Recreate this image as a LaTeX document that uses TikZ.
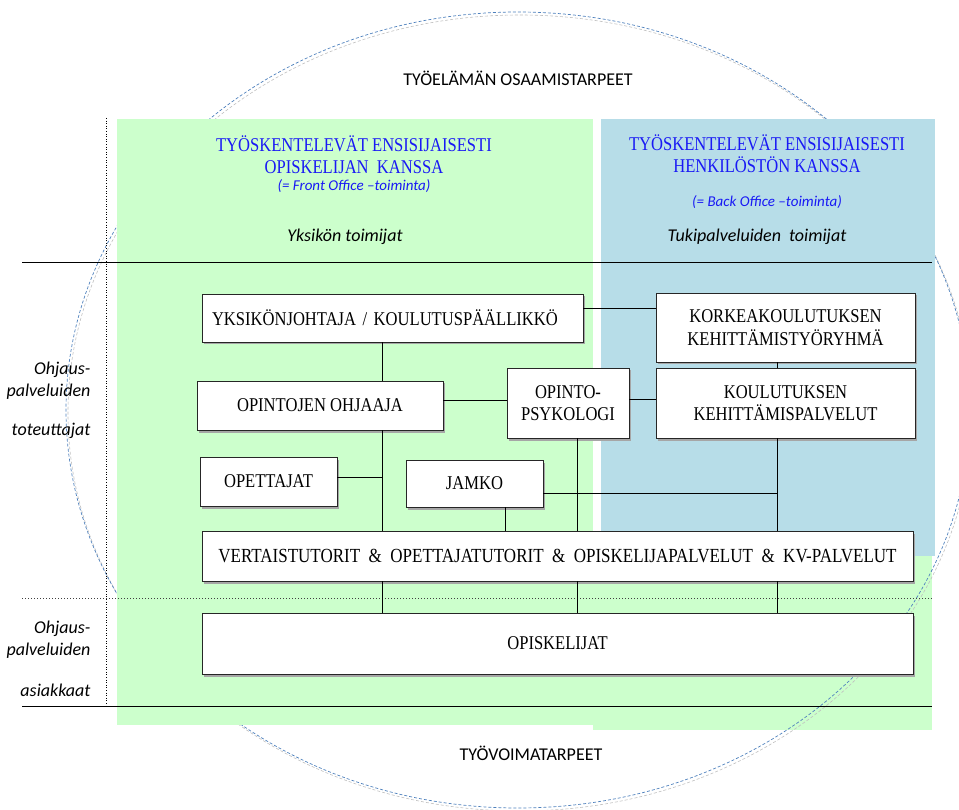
\documentclass[tikz,border=0pt]{standalone}
\usepackage{fontspec}
\setmainfont{Liberation Serif}
\newfontfamily\cambria[FakeStretch=0.85]{Liberation Serif}
\newfontfamily\calibri{Carlito}
\usepackage{tikz}
\usetikzlibrary{
  shadows,
  positioning}
\definecolor{frontgreen}{RGB}{204,255,204}
\definecolor{backblue}{RGB}{183,221,232}
\definecolor{headblue}{RGB}{25,25,245}
\definecolor{ringblue}{RGB}{79,129,189}

\begin{document}
\begin{tikzpicture}[x=1pt,y=-1pt,
  box/.style={draw=black!85,fill=white,line width=0.9pt,align=center,inner sep=2pt,
    font=\cambria\fontsize{19.5}{22.5}\selectfont,
    drop shadow={shadow xshift=2pt,shadow yshift=-2.5pt,fill=black!35,opacity=1}},
  head/.style={align=center,text=headblue,font=\cambria\fontsize{19.5}{22}\selectfont},
  sub/.style={text=headblue,font=\calibri\itshape\fontsize{15}{18}\selectfont},
  role/.style={font=\calibri\itshape\fontsize{18}{22}\selectfont},
  side/.style={role,align=right,anchor=east},
  need/.style={font=\calibri\fontsize{18}{22}\selectfont},
  link/.style={line width=0.8pt}]
  \useasboundingbox (0,0) rectangle (959,810);

  \fill[frontgreen] (593,556) rectangle (932,730);
  \draw[black!25,dashed,dash pattern=on 3pt off 2pt,line width=0.6pt] (520,413) ellipse [x radius=452,y radius=398];
  \draw[ringblue,dashed,dash pattern=on 3pt off 2pt,line width=0.7pt] (518,410) ellipse [x radius=452,y radius=398];
  \fill[frontgreen] (117,119) rectangle (593,725);
  \fill[backblue] (601,119) rectangle (935,556);

  \draw[line width=0.8pt] (22,262) -- (932,262);
  \draw[black!75,dotted,line width=1pt] (22,598) -- (932,598);
  \draw[line width=0.8pt] (22,706) -- (932,706);
  \draw[dotted,line width=0.6pt] (106,118) -- (106,708);

  \node[need] (osaam) at (518,78) {TYÖELÄMÄN OSAAMISTARPEET};
  \node[need] (tyovoima) at (531,753) {TYÖVOIMATARPEET};

  \node[head] (fronthd) at (354,155) {TYÖSKENTELEVÄT ENSISIJAISESTI\\OPISKELIJAN\ \ KANSSA};
  \node[sub] (frontsub) at (354,186) {(= Front Office –toiminta)};
  \node[role] (yksikko) at (345,237) {Yksikön toimijat};
  \node[head] (backhd) at (767,154) {TYÖSKENTELEVÄT ENSISIJAISESTI\\HENKILÖSTÖN KANSSA};
  \node[sub] (backsub) at (767,202) {(= Back Office –toiminta)};
  \node[role] (tuki) at (757,237) {Tukipalveluiden\ \ toimijat};

  \node[side] (ohjaus1) at (94,381) {Ohjaus-\\palveluiden};
  \node[side] (toteut) at (94,431) {toteuttajat};
  \node[side] (ohjaus2) at (94,640) {Ohjaus-\\palveluiden};
  \node[side] (asiak) at (94,690) {asiakkaat};

  \node[box,text width=361pt,align=left,inner xsep=10pt,minimum height=48pt] (yks) at (392.5,318) {YKSIKÖNJOHTAJA / KOULUTUSPÄÄLLIKKÖ};
  \node[box,minimum width=259pt,minimum height=69pt] (kork) at (785.5,327.5) {KORKEAKOULUTUKSEN\\KEHITTÄMISTYÖRYHMÄ};
  \node[box,minimum width=246pt,minimum height=49pt] (ohj) at (320,405.5) {OPINTOJEN OHJAAJA};
  \node[box,minimum width=122pt,minimum height=70pt] (psy) at (568,403) {OPINTO-\\PSYKOLOGI};
  \node[box,minimum width=259pt,minimum height=70pt] (kkp) at (785.5,403) {KOULUTUKSEN\\KEHITTÄMISPALVELUT};
  \node[box,minimum width=137pt,minimum height=49pt] (opet) at (268.5,481.5) {OPETTAJAT};
  \node[box,minimum width=137pt,minimum height=47pt] (jamko) at (474.5,483.5) {JAMKO};
  \node[box,minimum width=711pt,minimum height=50pt,font=\cambria\fontsize{20}{23}\selectfont] (vert) at (557.5,556) {VERTAISTUTORIT \ \& \ OPETTAJATUTORIT \ \& \ OPISKELIJAPALVELUT \ \& \ KV-PALVELUT};
  \node[box,minimum width=711pt,minimum height=61pt] (opis) at (557.5,643.5) {OPISKELIJAT};

  \coordinate (xa) at (382,0);
  \coordinate (xj) at (505,0);
  \coordinate (xb) at (577,0);
  \coordinate (xc) at (777,0);

  \draw[link] ([yshift=10pt]yks.east) -- ([yshift=10pt]yks.east -| kork.west);
  \draw[link] (xa |- yks.south) -- (xa |- ohj.north);
  \draw[link] ([yshift=5.5pt]ohj.east) -- ([yshift=5.5pt]ohj.east -| psy.west);
  \draw[link] ([yshift=4pt]psy.east) -- ([yshift=4pt]psy.east -| kkp.west);
  \draw[link] (xc |- kork.south) -- (xc |- kkp.north);
  \draw[link] (xa |- ohj.south) -- (xa |- vert.north);
  \draw[link] ([yshift=4.5pt]opet.east) -- ([yshift=4.5pt]opet.east -| xa);
  \draw[link] (xb |- psy.south) -- (xb |- vert.north);
  \draw[link] (xc |- kkp.south) -- (xc |- vert.north);
  \draw[link] ([yshift=-9.5pt]jamko.east) -- ([yshift=-9.5pt]jamko.east -| xc);
  \draw[link] (xj |- jamko.south) -- (xj |- vert.north);
  \foreach \c in {xa,xb,xc}
    \draw[link] (\c |- vert.south) -- (\c |- opis.north);
\end{tikzpicture}
\end{document}
